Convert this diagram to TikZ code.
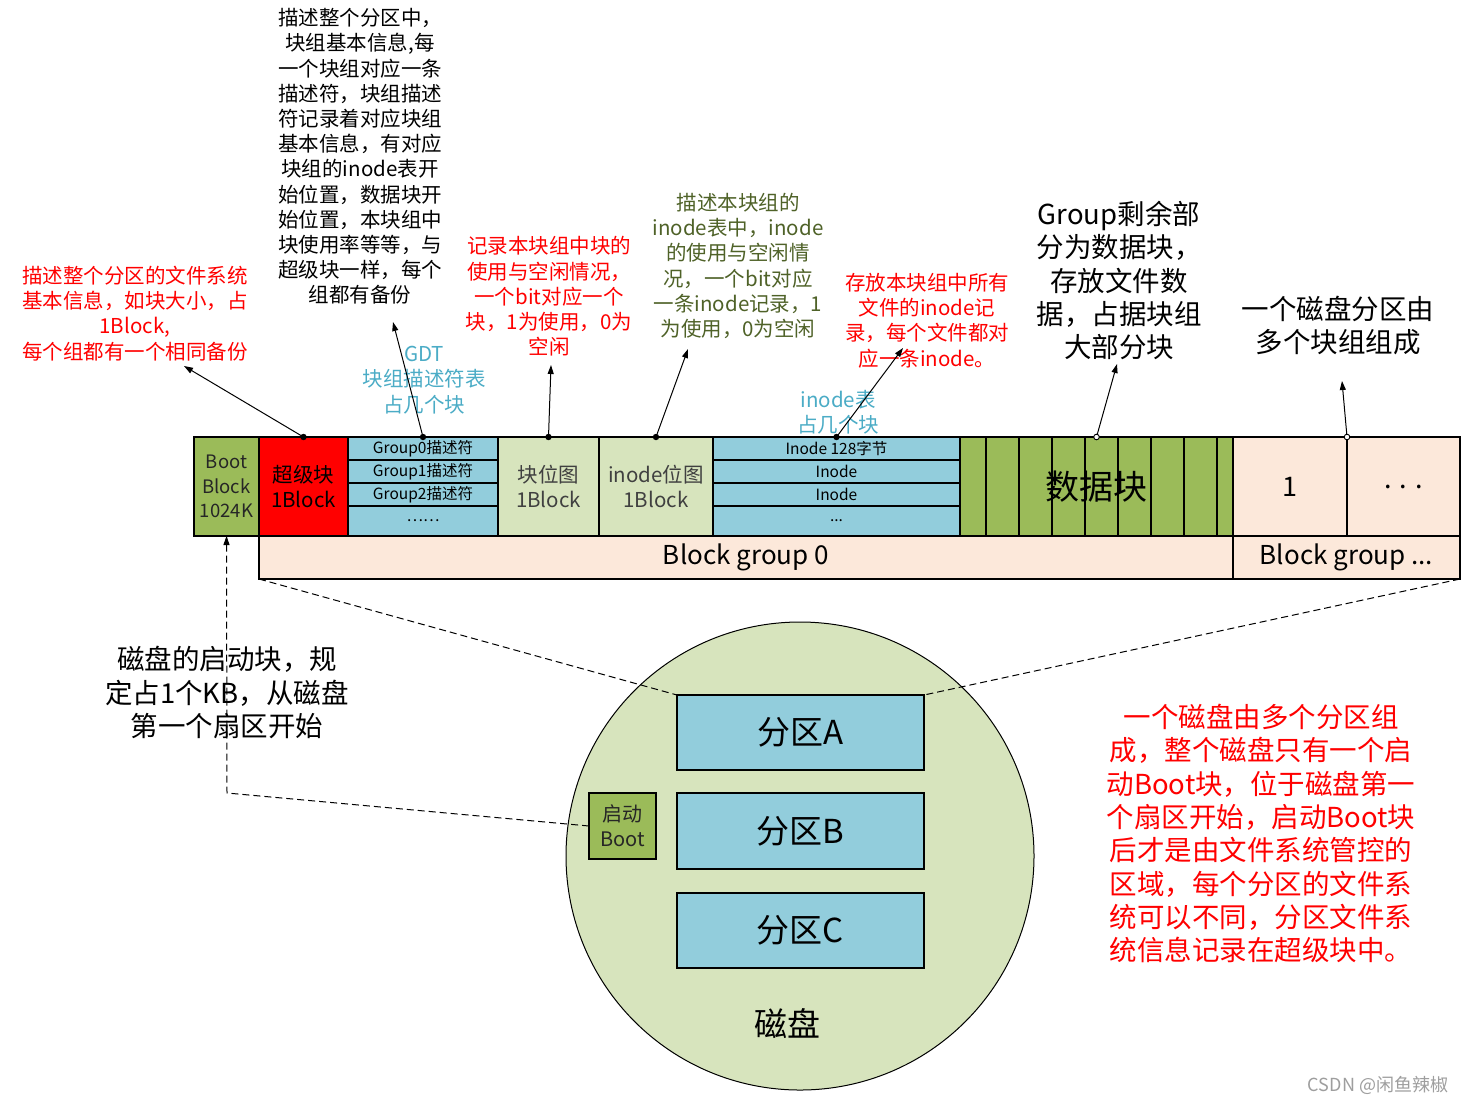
\documentclass[tikz,border=0pt]{standalone}
\usepackage{fontspec}
\setmainfont{Noto Sans CJK SC}
\usetikzlibrary{arrows.meta}
\definecolor{bootgreen}{HTML}{9BBB59}
\definecolor{lblue}{HTML}{92CDDC}
\definecolor{lgreen}{HTML}{D7E4BD}
\definecolor{peach}{HTML}{FCE8DA}
\definecolor{cyantxt}{HTML}{4BACC6}
\definecolor{olivetxt}{HTML}{4F6228}
\definecolor{darkgray}{HTML}{404040}
\begin{document}
\begin{tikzpicture}[x=1pt,y=-1pt,
  cell/.style={draw=black, line width=1.2pt, inner sep=0pt, outer sep=0pt, anchor=north west, align=center},
  smallf/.style={font=\fontsize{20.5}{24.8}\selectfont},
  tinyf/.style={font=\fontsize{15.5}{18}\selectfont},
  note/.style={align=center, inner sep=0pt, font=\fontsize{20.5}{25.2}\selectfont},
  bignote/.style={align=center, inner sep=0pt, font=\fontsize{27.5}{33.3}\selectfont},
  ptr/.style={-{Triangle[length=9pt,width=6pt]}, line width=1pt},
  dashln/.style={dashed, dash pattern=on 7pt off 4pt, line width=1pt}]
\useasboundingbox (0,0) rectangle (1469,1104);
\fill[white] (0,0) rectangle (1469,1104);

% ---- block group row ----
\node[cell, fill=bootgreen, minimum width=65, minimum height=99, font=\fontsize{18.5}{24.5}\selectfont, text=black!85] (boot) at (194,437) {Boot\\Block\\1024K};
\node[cell, fill=red, minimum width=89, minimum height=99, smallf] (super) at (259,437) {超级块\\1Block};
\node[cell, fill=lblue, minimum width=150, minimum height=23, tinyf] (g0) at (348,437) {Group0描述符};
\node[cell, fill=lblue, minimum width=150, minimum height=23, tinyf] (g1d) at (348,460) {Group1描述符};
\node[cell, fill=lblue, minimum width=150, minimum height=23, tinyf] (g2d) at (348,483) {Group2描述符};
\node[cell, fill=lblue, minimum width=150, minimum height=30, tinyf] (gdots) at (348,506) {……};
\node[cell, fill=lgreen, minimum width=101, minimum height=99, smallf, text=darkgray] (bbm) at (498,437) {块位图\\1Block};
\node[cell, fill=lgreen, minimum width=114, minimum height=99, smallf, text=darkgray] (ibm) at (599,437) {inode位图\\1Block};
\node[cell, fill=lblue, minimum width=247, minimum height=23, tinyf] (in0) at (713,437) {Inode 128字节};
\node[cell, fill=lblue, minimum width=247, minimum height=23, tinyf] (in1) at (713,460) {Inode};
\node[cell, fill=lblue, minimum width=247, minimum height=23, tinyf] (in2) at (713,483) {Inode};
\node[cell, fill=lblue, minimum width=247, minimum height=30, tinyf] (in3) at (713,506) {...};
\draw[line width=2.6pt] (in0.south west) -- (in0.south east);
\node[cell, fill=bootgreen, minimum width=273, minimum height=99] (data) at (960,437) {};
\foreach \xx in {986,1019,1052,1085,1118,1151,1184,1217}
  \draw[line width=1.1pt] (\xx,437) -- (\xx,536);
\node[font=\fontsize{34}{40}\selectfont, inner sep=0pt] (datatxt) at (data.center) {数据块};
\node[cell, fill=peach, minimum width=114, minimum height=99, font=\fontsize{27}{32}\selectfont] (gone) at (1233,437) {1};
\node[cell, fill=peach, minimum width=113, minimum height=99, font=\fontsize{27}{32}\selectfont] (gmore) at (1347,437) {. . .};
\node[cell, fill=peach, minimum width=974, minimum height=43, font=\fontsize{26}{30}\selectfont] (bg0) at (259,536) {Block group 0};
\node[cell, fill=peach, minimum width=227, minimum height=43, font=\fontsize{26}{30}\selectfont] (bgn) at (1233,536) {Block group ...};

% ---- annotations ----
\node[note, text=red] (nsuper) at (135,313.5) {描述整个分区的文件系统\\基本信息，如块大小，占\\1Block,\\每个组都有一个相同备份};
\node[note] (ngdt) at (360,156.5) {描述整个分区中，\\块组基本信息,每\\一个块组对应一条\\描述符，块组描述\\符记录着对应块组\\基本信息，有对应\\块组的inode表开\\始位置，数据块开\\始位置，本块组中\\块使用率等等，与\\超级块一样，每个\\组都有备份};
\node[note, text=cyantxt] (lgdt) at (424,380) {GDT\\块组描述符表\\占几个块};
\node[note, text=red] (nbbm) at (549,296.5) {记录本块组中块的\\使用与空闲情况，\\一个bit对应一个\\块，1为使用，0为\\空闲};
\node[note, text=olivetxt] (nibm) at (738,266) {描述本块组的\\inode表中，inode\\的使用与空闲情\\况，一个bit对应\\一条inode记录，1\\为使用，0为空闲};
\node[note, text=cyantxt] (linode) at (838,412.5) {inode表\\占几个块};
\node[note, text=red] (ninode) at (927,320.5) {存放本块组中所有\\文件的inode记\\录，每个文件都对\\应一条inode。};
\node[bignote] (ndata) at (1119,280.5) {Group剩余部\\分为数据块，\\存放文件数\\据，占据块组\\大部分块};
\node[bignote] (npart) at (1338,325.5) {一个磁盘分区由\\多个块组组成};

\coordinate (t1) at (184,366);
\coordinate (t2) at (393,322);
\coordinate (t3) at (551,365);
\coordinate (t4) at (688,349);
\coordinate (t5) at (903,348);
\coordinate (t6) at (1117,364);
\coordinate (t7) at (1342,381);
\draw[ptr] (super.north) -- (t1);
\draw[ptr] (g0.north) -- (t2);
\draw[ptr] (bbm.north) -- (t3);
\draw[ptr] (ibm.north) -- (t4);
\draw[ptr] (in0.north) -- (t5);
\draw[ptr] (data.north) -- (t6);
\draw[ptr] (gone.north east) -- (t7);
\foreach \n in {super,g0,bbm,ibm,in0} \fill (\n.north) circle (3.2);
\filldraw[fill=white, line width=0.9pt] (data.north) circle (2.8);
\filldraw[fill=white, line width=0.9pt] (gone.north east) circle (2.8);

% ---- disk ----
\node[circle, draw=black, line width=1pt, fill=lgreen, minimum size=468, inner sep=0pt] (disk) at (800,856) {};
\node[cell, fill=lblue, minimum width=247, minimum height=75, font=\fontsize{33}{38}\selectfont] (pA) at (677,695) {分区A};
\node[cell, fill=lblue, minimum width=247, minimum height=76, font=\fontsize{33}{38}\selectfont] (pB) at (677,793) {分区B};
\node[cell, fill=lblue, minimum width=247, minimum height=75, font=\fontsize{33}{38}\selectfont] (pC) at (677,893) {分区C};
\node[cell, fill=bootgreen, minimum width=67, minimum height=66, font=\fontsize{20}{25}\selectfont, text=black!85] (bootbox) at (589,793) {启动\\Boot};
\node[font=\fontsize{33}{38}\selectfont, inner sep=0pt] (disklbl) at (787,1023) {磁盘};

% ---- dashed connectors ----
\coordinate (bend) at (227,793);
\draw[dashln] (bg0.south west) -- (pA.north west);
\draw[dashln] (bgn.south east) -- (pA.north east);
\draw[dashln] (bootbox.west) -- (bend) -- (boot.south);
\draw[-{Triangle[length=9pt,width=6pt]}, line width=1pt] ([yshift=-12pt]boot.south) -- (boot.south);

\node[bignote] (nboot) at (227,692.5) {磁盘的启动块，规\\定占1个KB，从磁盘\\第一个扇区开始};
\node[bignote, text=red] (ndisk) at (1261,833.5) {一个磁盘由多个分区组\\成，整个磁盘只有一个启\\动Boot块，位于磁盘第一\\个扇区开始，启动Boot块\\后才是由文件系统管控的\\区域，每个分区的文件系\\统可以不同，分区文件系\\统信息记录在超级块中。};
\node[font=\fontsize{18}{22}\selectfont, text=black!38, inner sep=0pt] (wm) at (1378,1085) {CSDN @闲鱼辣椒};
\end{tikzpicture}
\end{document}
